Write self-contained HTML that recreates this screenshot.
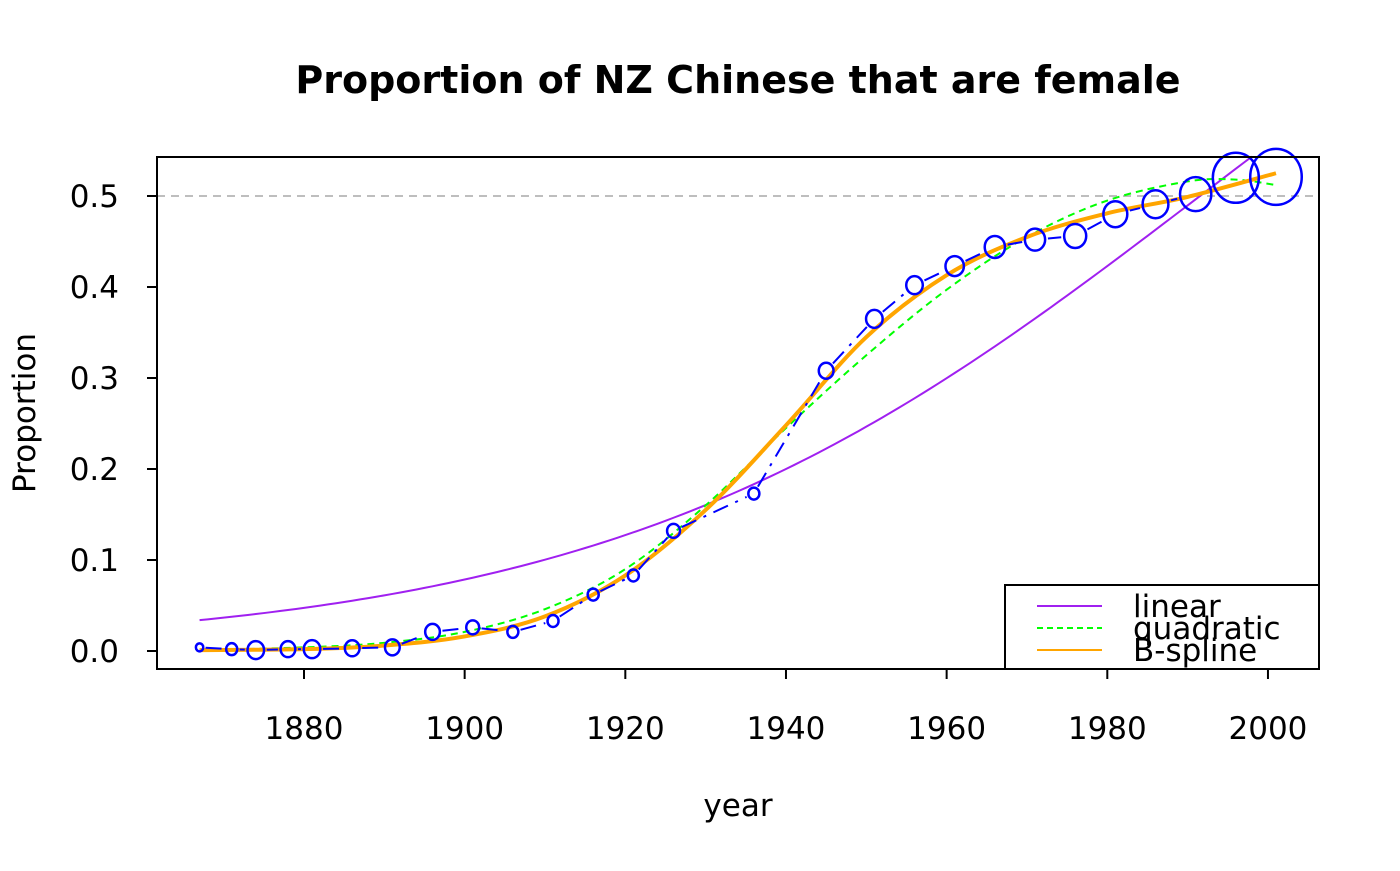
<!DOCTYPE html>
<html><head><meta charset="utf-8"><style>body{margin:0;background:#fff}svg text{font-family:"DejaVu Sans","Liberation Sans",sans-serif}</style></head><body>
<svg id="s" width="1400" height="866" viewBox="0 0 1400 866" xmlns="http://www.w3.org/2000/svg">
<rect width="1400" height="866" fill="#fff"/>
<text x="738" y="93" font-size="38" font-weight="bold" text-anchor="middle">Proportion of NZ Chinese that are female</text>
<text x="738" y="816" font-size="31" text-anchor="middle">year</text>
<text transform="translate(35,413) rotate(-90)" font-size="31" text-anchor="middle">Proportion</text>
<line x1="157" y1="196" x2="1319" y2="196" stroke="#bebebe" stroke-width="2" stroke-dasharray="8,6"/>
<g id="g"></g>
<rect x="157" y="157" width="1162" height="512" fill="none" stroke="#000" stroke-width="2"/>
<rect x="1005" y="585" width="314" height="84" fill="#fff" stroke="#000" stroke-width="2"/>
<line x1="1037" y1="606" x2="1102" y2="606" stroke="#a020f0" stroke-width="2"/>
<line x1="1037" y1="628" x2="1102" y2="628" stroke="#00ff00" stroke-width="2" stroke-dasharray="6,4"/>
<line x1="1037" y1="650" x2="1102" y2="650" stroke="#ffa500" stroke-width="2"/>
<text x="1133" y="617" font-size="31">linear</text>
<text x="1133" y="639" font-size="31">quadratic</text>
<text x="1133" y="661" font-size="31">B-spline</text>
</svg>
<script>
const NS="http://www.w3.org/2000/svg",g=document.getElementById('g'),s=document.getElementById('s');
const X=y=>304+(y-1880)*8.033,Y=p=>651-p*910;
function el(t,a,par){const e=document.createElementNS(NS,t);for(const k in a)e.setAttribute(k,a[k]);(par||g).appendChild(e);return e;}
for(let i=0;i<=5;i++){const y=Y(i/10);el('line',{x1:147,y1:y,x2:157,y2:y,stroke:'#000','stroke-width':2},s);
 const t=el('text',{x:119,y:y+11,'font-size':31,'text-anchor':'end'},s);t.textContent=(i/10).toFixed(1);}
for(let yr=1880;yr<=2000;yr+=20){const x=X(yr);el('line',{x1:x,y1:669,x2:x,y2:679,stroke:'#000','stroke-width':2},s);
 const t=el('text',{x:x,y:739,'font-size':31,'text-anchor':'middle'},s);t.textContent=yr;}
function smooth(pts){let d='M'+pts[0][0]+','+pts[0][1];for(let i=0;i<pts.length-1;i++){const p0=pts[Math.max(0,i-1)],p1=pts[i],p2=pts[i+1],p3=pts[Math.min(pts.length-1,i+2)];
 d+=' C'+(p1[0]+(p2[0]-p0[0])/6)+','+(p1[1]+(p2[1]-p0[1])/6)+' '+(p2[0]-(p3[0]-p1[0])/6)+','+(p2[1]-(p3[1]-p1[1])/6)+' '+p2[0]+','+p2[1];}return d;}
let lp=[];for(let yr=1867;yr<=1998.2;yr+=1){const l=-3.35+0.0269*(yr-1867);lp.push([X(yr),Y(1/(1+Math.exp(-l)))]);}
el('polyline',{points:lp.map(p=>p.join(',')).join(' '),fill:'none',stroke:'#a020f0','stroke-width':2});
const q=[[1867,.001],[1880,.004],[1890,.009],[1900,.021],[1910,.046],[1920,.09],[1930,.16],[1940,.245],[1950,.325],[1960,.397],[1970,.455],[1980,.495],[1990,.516],[1996,.518],[2001,.512]];
el('path',{d:smooth(q.map(a=>[X(a[0]),Y(a[1])])),fill:'none',stroke:'#00ff00','stroke-width':2,'stroke-dasharray':'7,5'});
const b=[[1867,.001],[1880,.002],[1890,.006],[1900,.016],[1910,.038],[1920,.083],[1930,.155],[1940,.248],[1950,.345],[1960,.413],[1970,.455],[1980,.481],[1990,.499],[2001,.525]];
el('path',{d:smooth(b.map(a=>[X(a[0]),Y(a[1])])),fill:'none',stroke:'#ffa500','stroke-width':4});
const d=[[1867,.004,4],[1871,.002,6],[1874,.001,9],[1878,.002,8],[1881,.002,9],[1886,.003,8],[1891,.004,8],[1896,.021,8],[1901,.026,7],[1906,.021,6],[1911,.033,6],[1916,.062,6],[1921,.083,6],[1926,.132,7],[1936,.173,6],[1945,.308,8],[1951,.365,9],[1956,.402,9],[1961,.423,10],[1966,.444,11],[1971,.452,11],[1976,.456,12],[1981,.48,13],[1986,.491,14],[1991,.502,17],[1996,.52,25],[2001,.521,28]];
const c=d.map(a=>[X(a[0]),Y(a[1]),a[2]]);
for(let i=0;i<c.length-1;i++){const [x1,y1,r1]=c[i],[x2,y2,r2]=c[i+1];const dx=x2-x1,dy=y2-y1,L=Math.hypot(dx,dy);if(L<=r1+r2+2)continue;
 el('line',{x1:x1+dx*(r1+2)/L,y1:y1+dy*(r1+2)/L,x2:x2-dx*(r2+2)/L,y2:y2-dy*(r2+2)/L,stroke:'#0000ff','stroke-width':2,'stroke-dasharray':'16,8,3,8'});}
c.forEach(([x,y,r])=>el('ellipse',{cx:x,cy:y,rx:r*0.92,ry:r,fill:'none',stroke:'#0000ff','stroke-width':2.5}));
</script>
</body></html>
